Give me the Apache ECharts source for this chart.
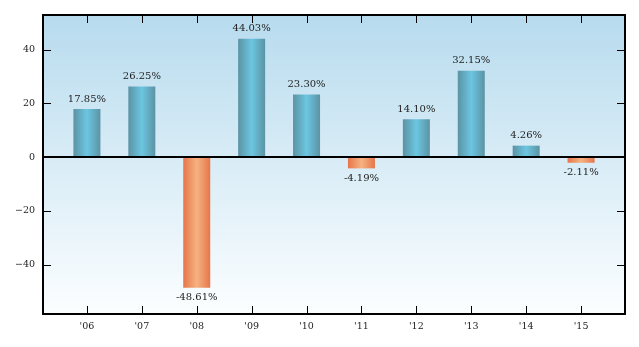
<!DOCTYPE html>
<html><head><meta charset="utf-8">
<script src="https://cdn.jsdelivr.net/npm/echarts@6/dist/echarts.min.js"></script>
<style>html,body{margin:0;padding:0;background:#fff}#c{width:639px;height:347px}</style>
</head><body><div id="c"></div>
<script>
const categories = ["'06","'07","'08","'09","'10","'11","'12","'13","'14","'15"];
const returns = [17.85, 26.25, -48.61, 44.03, 23.30, -4.19, 14.10, 32.15, 4.26, -2.11];
const yTicks = [-40, -20, 0, 20, 40];

const FONT = 'DejaVu Serif';
const TICK_LEN = 8;
const blueGrad = new echarts.graphic.LinearGradient(0,0,1,0,[
  {offset:0,color:'#5b93a3'},{offset:0.5,color:'#6cc6e1'},{offset:1,color:'#5b93a3'}]);
const orangeGrad = new echarts.graphic.LinearGradient(0,0,1,0,[
  {offset:0,color:'#e6764a'},{offset:0.5,color:'#f6b282'},{offset:1,color:'#e6764a'}]);

const maxV = Math.max(...returns), minV = Math.min(...returns);
const yMax = maxV * 1.2, yMin = minV * 1.2;
const xMin = -0.8, xMax = categories.length - 0.2;
const idx = categories.map((c,i)=>i);

const data = returns.map((v,i)=>({
  value:[i,v],
  itemStyle:{color: v>=0 ? blueGrad : orangeGrad},
  label:{position: v>=0 ? 'top' : 'bottom'}
}));

const tickStyle = {stroke:'#000', lineWidth:1};
const snap = v => Math.round(v) + 0.5;

// inward ticks on the bottom/top edges at each category position
function xTickRender(params, api){
  const x = api.value(0);
  const pb = api.coord([x, yMin]);
  const pt = api.coord([x, yMax]);
  const px = snap(pb[0]);
  return {type:'group', children:[
    {type:'line', shape:{x1:px, y1:pb[1], x2:px, y2:pb[1]-TICK_LEN}, style:tickStyle},
    {type:'line', shape:{x1:px, y1:pt[1], x2:px, y2:pt[1]+TICK_LEN}, style:tickStyle}
  ]};
}
// inward ticks on the left/right edges at each y tick value
function yTickRender(params, api){
  const y = api.value(1);
  const pl = api.coord([xMin, y]);
  const pr = api.coord([xMax, y]);
  const py = snap(pl[1]);
  return {type:'group', children:[
    {type:'line', shape:{x1:pl[0], y1:py, x2:pl[0]+TICK_LEN, y2:py}, style:tickStyle},
    {type:'line', shape:{x1:pr[0], y1:py, x2:pr[0]-TICK_LEN, y2:py}, style:tickStyle}
  ]};
}

const chart = echarts.init(document.getElementById('c'), null, {renderer:'canvas'});
chart.setOption({
  animation:false,
  grid:{left:43, top:15, right:14, bottom:33, show:true, borderColor:'#000', borderWidth:2,
    backgroundColor:new echarts.graphic.LinearGradient(0,0,0,1,[
      {offset:0,color:'#b7dbee'},{offset:1,color:'#fcfeff'}])},
  xAxis:{type:'value', min:xMin, max:xMax, position:'bottom',
    splitLine:{show:false}, axisLine:{show:false, onZero:false}, axisTick:{show:false},
    axisLabel:{customValues:idx, formatter:v=>categories[Math.round(v)], margin:8,
      fontFamily:FONT, fontSize:9.5, color:'#222'}},
  yAxis:{type:'value', min:yMin, max:yMax, position:'left',
    splitLine:{show:false}, axisLine:{show:false, onZero:false}, axisTick:{show:false},
    axisLabel:{customValues:yTicks, formatter:v=>String(v).replace('-','\u2212'), margin:8,
      fontFamily:FONT, fontSize:9.5, color:'#222'}},
  series:[
    {
      type:'bar', barWidth:27, z:2,
      data:data,
      label:{show:true, distance:5, fontFamily:FONT, fontSize:10, color:'#222',
        formatter:p=>p.value[1].toFixed(2)+'%'},
      markLine:{silent:true, symbol:'none', label:{show:false},
        lineStyle:{color:'#000', width:2, type:'solid'}, data:[{yAxis:0}]}
    },
    {type:'custom', silent:true, z:5, clip:false, renderItem:xTickRender,
      data: idx.map(i=>[i, 0])},
    {type:'custom', silent:true, z:5, clip:false, renderItem:yTickRender,
      data: yTicks.map(v=>[0, v])}
  ]
});
</script></body></html>
